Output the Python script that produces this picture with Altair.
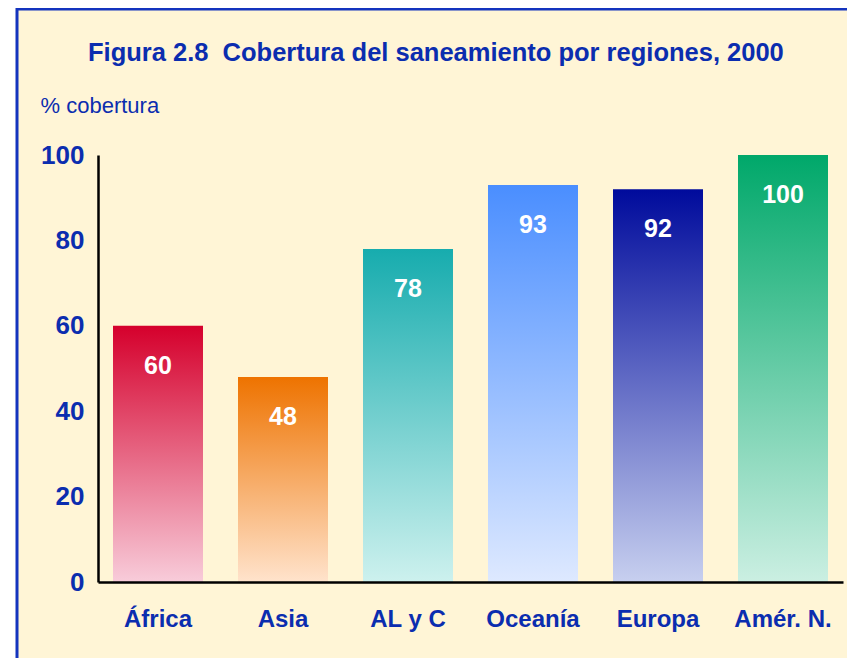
import altair as alt
import pandas as pd

# ---- data ----
regions = ["África", "Asia", "AL y C", "Oceanía", "Europa", "Amér. N."]
coverage = [60, 48, 78, 93, 92, 100]
top_colors = ["#D5002C", "#EE7300", "#17ACAE", "#4A8EFF", "#000B9C", "#00A86A"]
bottom_colors = ["#F8CCDA", "#FFE3CC", "#CDF1EE", "#DEE9FF", "#C7CFEF", "#CBEFE2"]
y_ticks = [0, 20, 40, 60, 80, 100]

title_text = "Figura 2.8 \u00a0Cobertura del saneamiento por regiones, 2000"
y_title = "% cobertura"

BLUE = "#0B2DAF"
CREAM = "#FFF5D6"
FONT = "Liberation Sans, Arial, sans-serif"

df = pd.DataFrame({"region": regions, "coverage": coverage})

x_enc = alt.X(
    "region:N",
    sort=regions,
    scale=alt.Scale(domain=regions, paddingInner=0.28, paddingOuter=0.12),
    axis=alt.Axis(
        title=None,
        labelAngle=0,
        ticks=False,
        labelPadding=25,
        labelFontSize=24,
        labelFontWeight="bold",
        labelColor=BLUE,
        labelFont=FONT,
        domainColor="black",
        domainWidth=2.5,
        zindex=1,
    ),
)
y_enc = alt.Y(
    "coverage:Q",
    scale=alt.Scale(domain=[0, 100], nice=False),
    axis=alt.Axis(
        title=y_title,
        titleAngle=0,
        titleAlign="left",
        titleBaseline="middle",
        titleX=-58,
        titleY=-50,
        titleFont=FONT,
        titleFontSize=22,
        titleFontWeight="normal",
        titleColor=BLUE,
        values=y_ticks,
        ticks=False,
        grid=False,
        labelPadding=14,
        labelFontSize=26,
        labelFontWeight="bold",
        labelColor=BLUE,
        labelFont=FONT,
        domainColor="black",
        domainWidth=2.5,
        zindex=1,
    ),
)

# decorative frame (cream panel with blue border)
frame = alt.Chart(alt.Data(values=[{}])).mark_rect(
    fill=CREAM, stroke="#1434BE", strokeWidth=3
).encode(
    x=alt.value(-81), x2=alt.value(800), y=alt.value(-146), y2=alt.value(600)
)

base = alt.Chart(df)
bar_layers = []
for r, tc, bc in zip(regions, top_colors, bottom_colors):
    grad = alt.Gradient(
        gradient="linear",
        stops=[alt.GradientStop(color=tc, offset=0), alt.GradientStop(color=bc, offset=1)],
        x1=0, x2=0, y1=0, y2=1,
    )
    bar_layers.append(
        base.transform_filter(alt.datum.region == r)
        .mark_bar(color=grad)
        .encode(x=x_enc, y=y_enc)
    )

labels = base.mark_text(
    dy=40, baseline="middle", align="center", color="white",
    fontSize=25, fontWeight="bold", font=FONT
).encode(x=x_enc, y=y_enc, text="coverage:Q")

chart = alt.layer(frame, *bar_layers, labels).properties(
    width=745,
    height=427,
    autosize=alt.AutoSizeParams(type="none"),
    padding={"left": 90, "top": 147, "right": 4, "bottom": 76},
    background="white",
    title=alt.TitleParams(
        text=title_text,
        anchor="start",
        frame="group",
        dx=-10,
        offset=-71,
        baseline="middle",
        font=FONT,
        fontSize=25.5,
        fontWeight="bold",
        color=BLUE,
    ),
).configure_view(stroke=None)

chart.save("out.html", embed_options={"renderer": "svg", "actions": False})
